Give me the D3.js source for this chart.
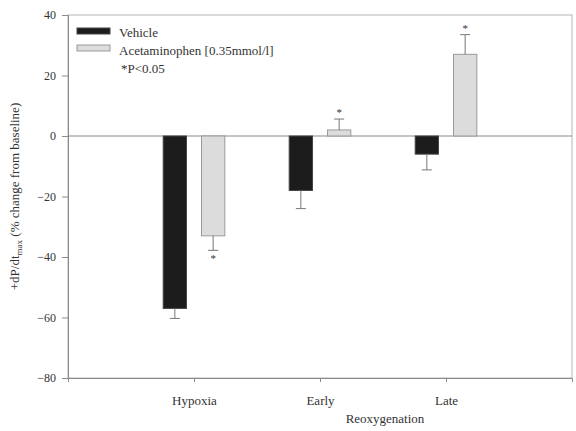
<!DOCTYPE html>
<html>
<head>
  <meta charset="utf-8">
  <script src="https://d3js.org/d3.v7.min.js"></script>
  <style>
    body { margin: 0; background: #fff; }
    text { font-family: "Liberation Serif", "DejaVu Serif", serif; fill: #333; }
    .axis path, .axis line { stroke: #8a8a8a; }
  </style>
</head>
<body>
<div id="chartArea"></div>
<script>
  var categories = ["Hypoxia", "Early", "Late"];
  var vehicle = [-57, -18, -6];
  var vehicleErr = [3.3, 6, 5.2];
  var acet = [-33, 2, 27];
  var acetErr = [4.8, 3.6, 6.5];
  var acetSig = [true, true, true];
  var yTicks = [-80, -60, -40, -20, 0, 20, 40];
  var seriesNames = ["Vehicle", "Acetaminophen [0.35mmol/l]"];

  var w = 576, h = 431;
  var margin = {top: 15, right: 4, bottom: 53, left: 68};

  var svg = d3.select("#chartArea").append("svg")
      .attr("width", w)
      .attr("height", h);

  var xScale = d3.scaleLinear().domain([0, categories.length + 1])
      .range([margin.left, w - margin.right]);
  var yScale = d3.scaleLinear().domain([-80, 40])
      .range([h - margin.bottom, margin.top]);

  var barW = 0.185, offset = 0.152;

  // frame
  svg.append("rect")
     .attr("x", xScale(0)).attr("y", yScale(40))
     .attr("width", xScale(4) - xScale(0))
     .attr("height", yScale(-80) - yScale(40))
     .attr("fill", "none").attr("stroke", "#b5b5b5");

  // zero line
  svg.append("line")
     .attr("x1", xScale(0)).attr("x2", xScale(4))
     .attr("y1", yScale(0)).attr("y2", yScale(0))
     .attr("stroke", "#8a8a8a");

  // axes
  var xAxis = d3.axisBottom(xScale).tickValues([1, 2, 3])
      .tickFormat(function(d) { return categories[d - 1]; })
      .tickSize(4).tickPadding(14);
  var gx = svg.append("g").attr("class", "axis")
     .attr("transform", "translate(0," + (h - margin.bottom) + ")")
     .call(xAxis);
  gx.selectAll("text").style("font-size", "13px").attr("fill", "#333");

  var yAxis = d3.axisLeft(yScale).tickValues(yTicks).tickSize(6).tickPadding(6);
  var gy = svg.append("g").attr("class", "axis")
     .attr("transform", "translate(" + margin.left + ",0)")
     .call(yAxis);
  gy.selectAll("text").style("font-size", "12px").attr("fill", "#333");

  function drawSeries(vals, errs, cls, fill, stroke, off) {
    svg.selectAll("rect." + cls)
       .data(vals).enter().append("rect")
       .attr("class", cls)
       .attr("x", function(d, i) { return xScale(i + 1 + off - barW / 2); })
       .attr("y", function(d) { return yScale(Math.max(0, d)); })
       .attr("width", xScale(barW) - xScale(0))
       .attr("height", function(d) { return Math.abs(yScale(d) - yScale(0)); })
       .attr("fill", fill).attr("stroke", stroke).attr("stroke-width", 1);

    vals.forEach(function(d, i) {
      var cx = xScale(i + 1 + off);
      var end = d < 0 ? d - errs[i] : d + errs[i];
      svg.append("line")
         .attr("x1", cx).attr("x2", cx)
         .attr("y1", yScale(d)).attr("y2", yScale(end))
         .attr("stroke", "#777");
      svg.append("line")
         .attr("x1", cx - 5).attr("x2", cx + 5)
         .attr("y1", yScale(end)).attr("y2", yScale(end))
         .attr("stroke", "#777");
    });
  }

  drawSeries(vehicle, vehicleErr, "veh", "#1c1c1c", "#444", -offset);
  drawSeries(acet, acetErr, "acet", "#dcdcdc", "#9a9a9a", offset);

  // significance marks
  acet.forEach(function(d, i) {
    if (!acetSig[i]) return;
    var end = d < 0 ? d - acetErr[i] : d + acetErr[i];
    svg.append("text")
       .attr("x", xScale(i + 1 + offset))
       .attr("y", yScale(end) + (d < 0 ? 12 : -3))
       .attr("text-anchor", "middle")
       .style("font-size", "11px")
       .attr("fill", "#666")
       .text("*");
  });

  // legend
  svg.append("rect").attr("x", 77).attr("y", 28).attr("width", 33).attr("height", 6)
     .attr("fill", "#1c1c1c").attr("stroke", "#444");
  svg.append("rect").attr("x", 77).attr("y", 45).attr("width", 33).attr("height", 6)
     .attr("fill", "#dcdcdc").attr("stroke", "#9a9a9a");
  svg.append("text").attr("x", 119).attr("y", 37).style("font-size", "13px").text(seriesNames[0]);
  svg.append("text").attr("x", 119).attr("y", 55).style("font-size", "13px").text(seriesNames[1]);
  svg.append("text").attr("x", 121).attr("y", 73).style("font-size", "13px").text("*P<0.05");

  // axis titles
  svg.append("text")
     .attr("x", (xScale(2) + xScale(3)) / 2 + 2).attr("y", 423)
     .attr("text-anchor", "middle")
     .style("font-size", "13px")
     .text("Reoxygenation");

  var yl = svg.append("text")
     .attr("transform", "translate(19," + ((yScale(40) + yScale(-80)) / 2) + ") rotate(-90)")
     .attr("text-anchor", "middle")
     .style("font-size", "13px");
  yl.append("tspan").text("+dP/dt");
  yl.append("tspan").attr("dy", 3).style("font-size", "9px").text("max");
  yl.append("tspan").attr("dy", -3).text(" (% change from baseline)");
</script>
</body>
</html>
